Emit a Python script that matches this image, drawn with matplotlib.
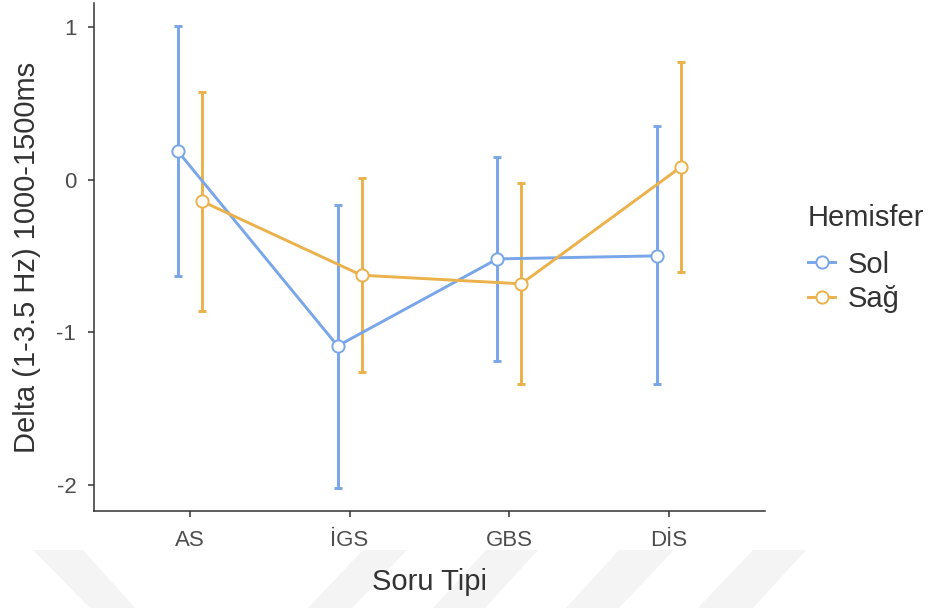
import numpy as np
import matplotlib.pyplot as plt
from matplotlib.patches import Polygon
from matplotlib.lines import Line2D

plt.rcParams['font.family'] = ['Liberation Sans', 'DejaVu Sans']

# Soru tipi kategorileri ve hemisfer ortalamalari
kategoriler = ["AS", "İGS", "GBS", "DİS"]
sol_ort = [0.185, -1.09, -0.52, -0.50]
sol_alt = [-0.633, -2.02, -1.19, -1.34]
sol_ust = [1.008, -0.17, 0.149, 0.35]
sag_ort = [-0.142, -0.627, -0.683, 0.083]
sag_alt = [-0.862, -1.262, -1.34, -0.607]
sag_ust = [0.574, 0.013, -0.022, 0.77]

mavi = '#78A6E8'
turuncu = '#EBB14B'
koyu = '#333333'
gri = '#4D4D4D'

fig = plt.figure(figsize=(9.33, 6.08), dpi=100)

# arka plandaki soluk filigran
for pts in [[(33, 550), (83, 550), (135, 608), (90, 608)],
            [(363, 550), (407, 550), (352, 608), (308, 608)],
            [(486, 550), (538, 550), (485, 608), (433, 608)],
            [(619, 550), (674, 550), (619, 608), (566, 608)],
            [(753, 550), (806, 550), (753, 608), (698, 608)]]:
    fig.patches.append(Polygon([(x / 933, 1 - y / 608) for x, y in pts],
                               closed=True, transform=fig.transFigure,
                               facecolor='#F4F4F4', edgecolor='none', zorder=-5))

ax = fig.add_axes([94 / 933, 97 / 608, 671 / 933, 508 / 608])
ax.patch.set_alpha(0)

x = np.arange(1, len(kategoriler) + 1)
kayma = 0.075

seriler = [("Sol", x - kayma, sol_ort, sol_alt, sol_ust, mavi),
           ("Sağ", x + kayma, sag_ort, sag_alt, sag_ust, turuncu)]

for ad, xs, ort, alt, ust, renk in seriler:
    ort = np.array(ort)
    yerr = [ort - np.array(alt), np.array(ust) - ort]
    ax.errorbar(xs, ort, yerr=yerr, fmt='none', ecolor=renk, elinewidth=2.1,
                capsize=2.9, capthick=2.1, zorder=2)

for ad, xs, ort, alt, ust, renk in seriler:
    ax.plot(xs, ort, color=renk, lw=2.1, zorder=3, solid_capstyle='butt')

for ad, xs, ort, alt, ust, renk in seriler:
    ax.plot(xs, ort, 'o', ms=8.8, mfc='white', mec=renk, mew=1.4, zorder=4)

ax.set_xlim(0.4, 4.6)
ax.set_ylim(-2.171, 1.156)
ax.set_xticks(x)
ax.set_xticklabels(kategoriler)
ax.set_yticks([-2, -1, 0, 1])
ax.set_yticklabels(["-2", "-1", "0", "1"])

for s in ['top', 'right']:
    ax.spines[s].set_visible(False)
for s in ['left', 'bottom']:
    ax.spines[s].set_color(koyu)
    ax.spines[s].set_linewidth(1.1)

ax.tick_params(axis='both', length=4.2, width=1.1, color=koyu,
               labelcolor=gri, labelsize=16)
ax.tick_params(axis='x', pad=9.5)
ax.tick_params(axis='y', pad=8.5)

ax.set_xlabel("Soru Tipi", fontsize=21, color=koyu, labelpad=12)
ax.set_ylabel("Delta (1-3.5 Hz) 1000-1500ms", fontsize=21, color=koyu,
              labelpad=11)

# lejant: baslik ayri metin, ogeler altinda
fig.text(808 / 933, 1 - 218 / 608, "Hemisfer", fontsize=21, color=koyu,
         ha='left', va='center')
tutacaklar = [Line2D([], [], color=renk, lw=2.1, marker='o', ms=8.8,
                     mfc='white', mec=renk, mew=1.4)
              for ad, xs, ort, alt, ust, renk in seriler]
leg = fig.legend(tutacaklar, [s[0] for s in seriler],
                 loc='upper left', bbox_to_anchor=(796 / 933, 1 - 239 / 608),
                 frameon=False, fontsize=21,
                 handlelength=0.95, handletextpad=0.41, labelspacing=0.22,
                 borderaxespad=0)
for t in leg.get_texts():
    t.set_color(koyu)

fig.savefig("out.png", dpi=100)
